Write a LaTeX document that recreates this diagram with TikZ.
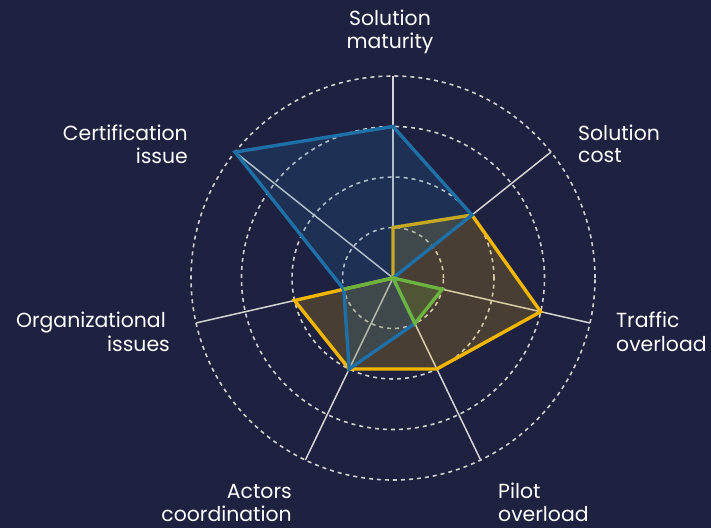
\documentclass[tikz,border=0pt]{standalone}
\usepackage{fontspec}
\setmainfont{Poppins}
\usetikzlibrary{calc}
\definecolor{bgc}{HTML}{1E2140}
\definecolor{gridcol}{HTML}{CFCFCF}
\definecolor{axiscol}{HTML}{D4D4D4}
\definecolor{blueL}{HTML}{1F70A6}
\definecolor{yellowL}{HTML}{F2B600}
\definecolor{greenL}{HTML}{6DB33F}
\tikzset{
  gridc/.style={draw=gridcol, line width=1.6pt, dash pattern=on 4pt off 4pt},
  axisl/.style={draw=axiscol, line width=1.5pt},
  series/.style={line width=3.4pt, fill opacity=0.2},
  lbl/.style={text=white, inner sep=0pt, font=\fontsize{20.4}{23}\selectfont}
}
\begin{document}
\begin{tikzpicture}[x=1pt,y=1pt]
\fill[bgc] (0,-528) rectangle (711,0);
\useasboundingbox (0,-528) rectangle (711,0);
\coordinate (O) at (393,-278);
\foreach \r in {50.5,101,151.5,202} \draw[gridc] (O) circle[radius=\r];
\foreach \i in {0,...,6} {
  \coordinate (e\i) at ($(O)+({90-\i*360/7}:202)$);
  \draw[axisl] (O) -- (e\i);
}
% series
\foreach \v [count=\i from 0] in {3,2,0,1,2,1,4}
  \coordinate (b\i) at ($(O)+({90-\i*360/7}:{\v*50.5})$);
\foreach \v [count=\i from 0] in {1,2,3,2,2,2,0}
  \coordinate (y\i) at ($(O)+({90-\i*360/7}:{\v*50.5})$);
\foreach \v [count=\i from 0] in {0,0,1,1,0,1,0}
  \coordinate (g\i) at ($(O)+({90-\i*360/7}:{\v*50.5})$);
\filldraw[series, draw=yellowL, fill=yellowL] (y0) -- (y1) -- (y2) -- (y3) -- (y4) -- (y5) -- (y6) -- cycle;
\filldraw[series, draw=blueL, fill=blueL] (b0) -- (b1) -- (b2) -- (b3) -- (b4) -- (b5) -- (b6) -- cycle;
\filldraw[series, draw=greenL, fill=greenL] (g0) -- (g1) -- (g2) -- (g3) -- (g4) -- (g5) -- (g6) -- cycle;
% labels
\node[lbl, anchor=base] (l0a) at (390,-25) {Solution};
\node[lbl, anchor=base] (l0b) at (390,-48) {maturity};
\node[lbl, anchor=base west] (l1a) at (578,-140) {Solution};
\node[lbl, anchor=base west] (l1b) at (578,-162.5) {cost};
\node[lbl, anchor=base west] (l2a) at (616,-327) {Traffic};
\node[lbl, anchor=base west] (l2b) at (616,-351) {overload};
\node[lbl, anchor=base west] (l3a) at (498,-498) {Pilot};
\node[lbl, anchor=base west] (l3b) at (498,-521) {overload};
\node[lbl, anchor=base east] (l4a) at (292,-498) {Actors};
\node[lbl, anchor=base east] (l4b) at (292,-521) {coordination};
\node[lbl, anchor=base east] (l5a) at (166,-327) {Organizational};
\node[lbl, anchor=base east] (l5b) at (170,-351) {issues};
\node[lbl, anchor=base east] (l6a) at (188,-140) {Certification};
\node[lbl, anchor=base east] (l6b) at (188,-163) {issue};
\end{tikzpicture}
\end{document}
